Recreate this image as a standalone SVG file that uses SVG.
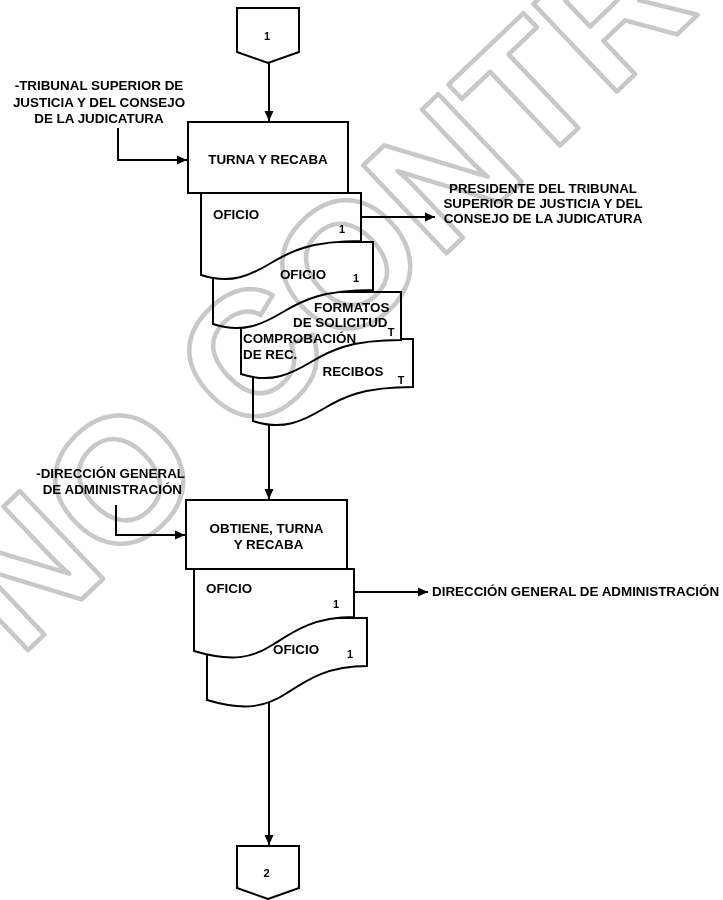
<svg xmlns="http://www.w3.org/2000/svg" xmlns:xlink="http://www.w3.org/1999/xlink" width="723" height="900" viewBox="0 0 723 900">
  <style>
    .shape { fill: #fff; stroke: #000; stroke-width: 2; }
    .line { fill: none; stroke: #000; stroke-width: 2; }
    .t { font-family: "Liberation Sans", Arial, sans-serif; font-weight: bold; font-size: 13.4px; fill: #000; }
    .s { font-size: 11px; }
    .m { text-anchor: middle; }
    .e { text-anchor: end; }
    .wm { font-family: "Liberation Sans", Arial, sans-serif; font-weight: bold; font-size: 176px; fill: none; stroke: #c8c8c8; stroke-width: 4.5; stroke-linejoin: round; mix-blend-mode: multiply; }
  </style>
  <defs>
    <!-- document symbol, 160 wide, wavy bottom -->
    <path id="docA" d="M0,0 H160 V48 C110,48 90,58 70,70 S30,92 0,82 Z"/>
    <path id="docB" d="M0,0 H160 V48 C120,48 100,62 80,75 S40,94 0,82 Z"/>
    <marker id="arrow" viewBox="0 0 10 10" refX="10" refY="5" markerWidth="10" markerHeight="10" markerUnits="userSpaceOnUse" orient="auto">
      <path d="M0,0.5 L10,5 L0,9.5 Z" fill="#000"/>
    </marker>
  </defs>

  <!-- off-page connector 1 -->
  <g id="conn-1">
    <polygon class="shape" points="237,8 299,8 299,52 268,63 237,52"/>
    <text class="t s m" x="267" y="40">1</text>
  </g>

  <!-- external source 1 -->
  <g id="src-tribunal">
    <text class="t m" x="99" y="90">-TRIBUNAL SUPERIOR DE</text>
    <text class="t m" x="99" y="106.5">JUSTICIA Y DEL CONSEJO</text>
    <text class="t m" x="99" y="123">DE LA JUDICATURA</text>
  </g>

  <!-- activity: turna y recaba -->
  <g id="act-turna">
    <rect class="shape" x="188" y="122" width="160" height="71"/>
    <text class="t m" x="268" y="163.5">TURNA Y RECABA</text>
  </g>

  <!-- document stack 1 (drawn back to front) -->
  <g id="doc-recibos">
    <use xlink:href="#docA" href="#docA" class="shape" x="253" y="339"/>
  </g>
  <g id="doc-formatos">
    <use xlink:href="#docA" href="#docA" class="shape" x="241" y="292"/>
  </g>
  <g id="doc-oficio-2">
    <use xlink:href="#docA" href="#docA" class="shape" x="213" y="242"/>
  </g>
  <g id="doc-oficio-1">
    <use xlink:href="#docA" href="#docA" class="shape" x="201" y="193"/>
  </g>
  <g id="doc-stack-1-labels">
    <text class="t" x="213" y="219">OFICIO</text>
    <text class="t s m" x="342" y="233">1</text>
    <text class="t m" x="303" y="279">OFICIO</text>
    <text class="t s m" x="356" y="282">1</text>
    <text class="t" x="314" y="311.5">FORMATOS</text>
    <text class="t" x="293" y="326.5">DE SOLICITUD</text>
    <text class="t s m" x="391" y="336">T</text>
    <text class="t" x="243" y="343">COMPROBACIÓN</text>
    <text class="t" x="243" y="359">DE REC.</text>
    <text class="t m" x="353" y="376">RECIBOS</text>
    <text class="t s m" x="401" y="384">T</text>
  </g>

  <!-- destination 1 -->
  <g id="dst-presidente">
    <text class="t m" x="543" y="193">PRESIDENTE DEL TRIBUNAL</text>
    <text class="t m" x="543" y="208">SUPERIOR DE JUSTICIA Y DEL</text>
    <text class="t m" x="543" y="223">CONSEJO DE LA JUDICATURA</text>
  </g>

  <!-- external source 2 -->
  <g id="src-direccion">
    <text class="t e" x="185" y="478">-DIRECCIÓN GENERAL</text>
    <text class="t e" x="182" y="494">DE ADMINISTRACIÓN</text>
  </g>

  <!-- activity: obtiene, turna y recaba -->
  <g id="act-obtiene">
    <rect class="shape" x="186" y="500" width="161" height="69"/>
    <text class="t m" x="266.5" y="533">OBTIENE, TURNA</text>
    <text class="t m" x="268.5" y="548.5">Y RECABA</text>
  </g>

  <!-- document stack 2 -->
  <g id="doc-oficio-4">
    <use xlink:href="#docB" href="#docB" class="shape" x="207" y="618"/>
  </g>
  <g id="doc-oficio-3">
    <use xlink:href="#docB" href="#docB" class="shape" x="194" y="569"/>
  </g>
  <g id="doc-stack-2-labels">
    <text class="t" x="206" y="593">OFICIO</text>
    <text class="t s m" x="336" y="608">1</text>
    <text class="t" x="273" y="654">OFICIO</text>
    <text class="t s m" x="350" y="658">1</text>
  </g>

  <!-- destination 2 -->
  <g id="dst-direccion">
    <text class="t" x="432" y="596">DIRECCIÓN GENERAL DE ADMINISTRACIÓN</text>
  </g>

  <!-- off-page connector 2 -->
  <g id="conn-2">
    <polygon class="shape" points="237,846 299,846 299,888 268,899 237,888"/>
    <text class="t s m" x="266.5" y="877">2</text>
  </g>

  <!-- connectors -->
  <g id="connectors">
    <path class="line" marker-end="url(#arrow)" d="M269,63 V121"/>
    <path class="line" marker-end="url(#arrow)" d="M118,128 V160 H187"/>
    <path class="line" marker-end="url(#arrow)" d="M362,217 H435"/>
    <path class="line" marker-end="url(#arrow)" d="M269,425 V499"/>
    <path class="line" marker-end="url(#arrow)" d="M116,505 V535 H185"/>
    <path class="line" marker-end="url(#arrow)" d="M354,592 H428"/>
    <path class="line" marker-end="url(#arrow)" d="M269,702 V845"/>
  </g>

  <!-- diagonal outlined stamp across the sheet, multiplied over the drawing -->
  <g id="watermark">
    <text class="wm" transform="translate(118,478) rotate(-43.5)" x="-195.5" y="63">NO CONTROLADA</text>
  </g>
</svg>
